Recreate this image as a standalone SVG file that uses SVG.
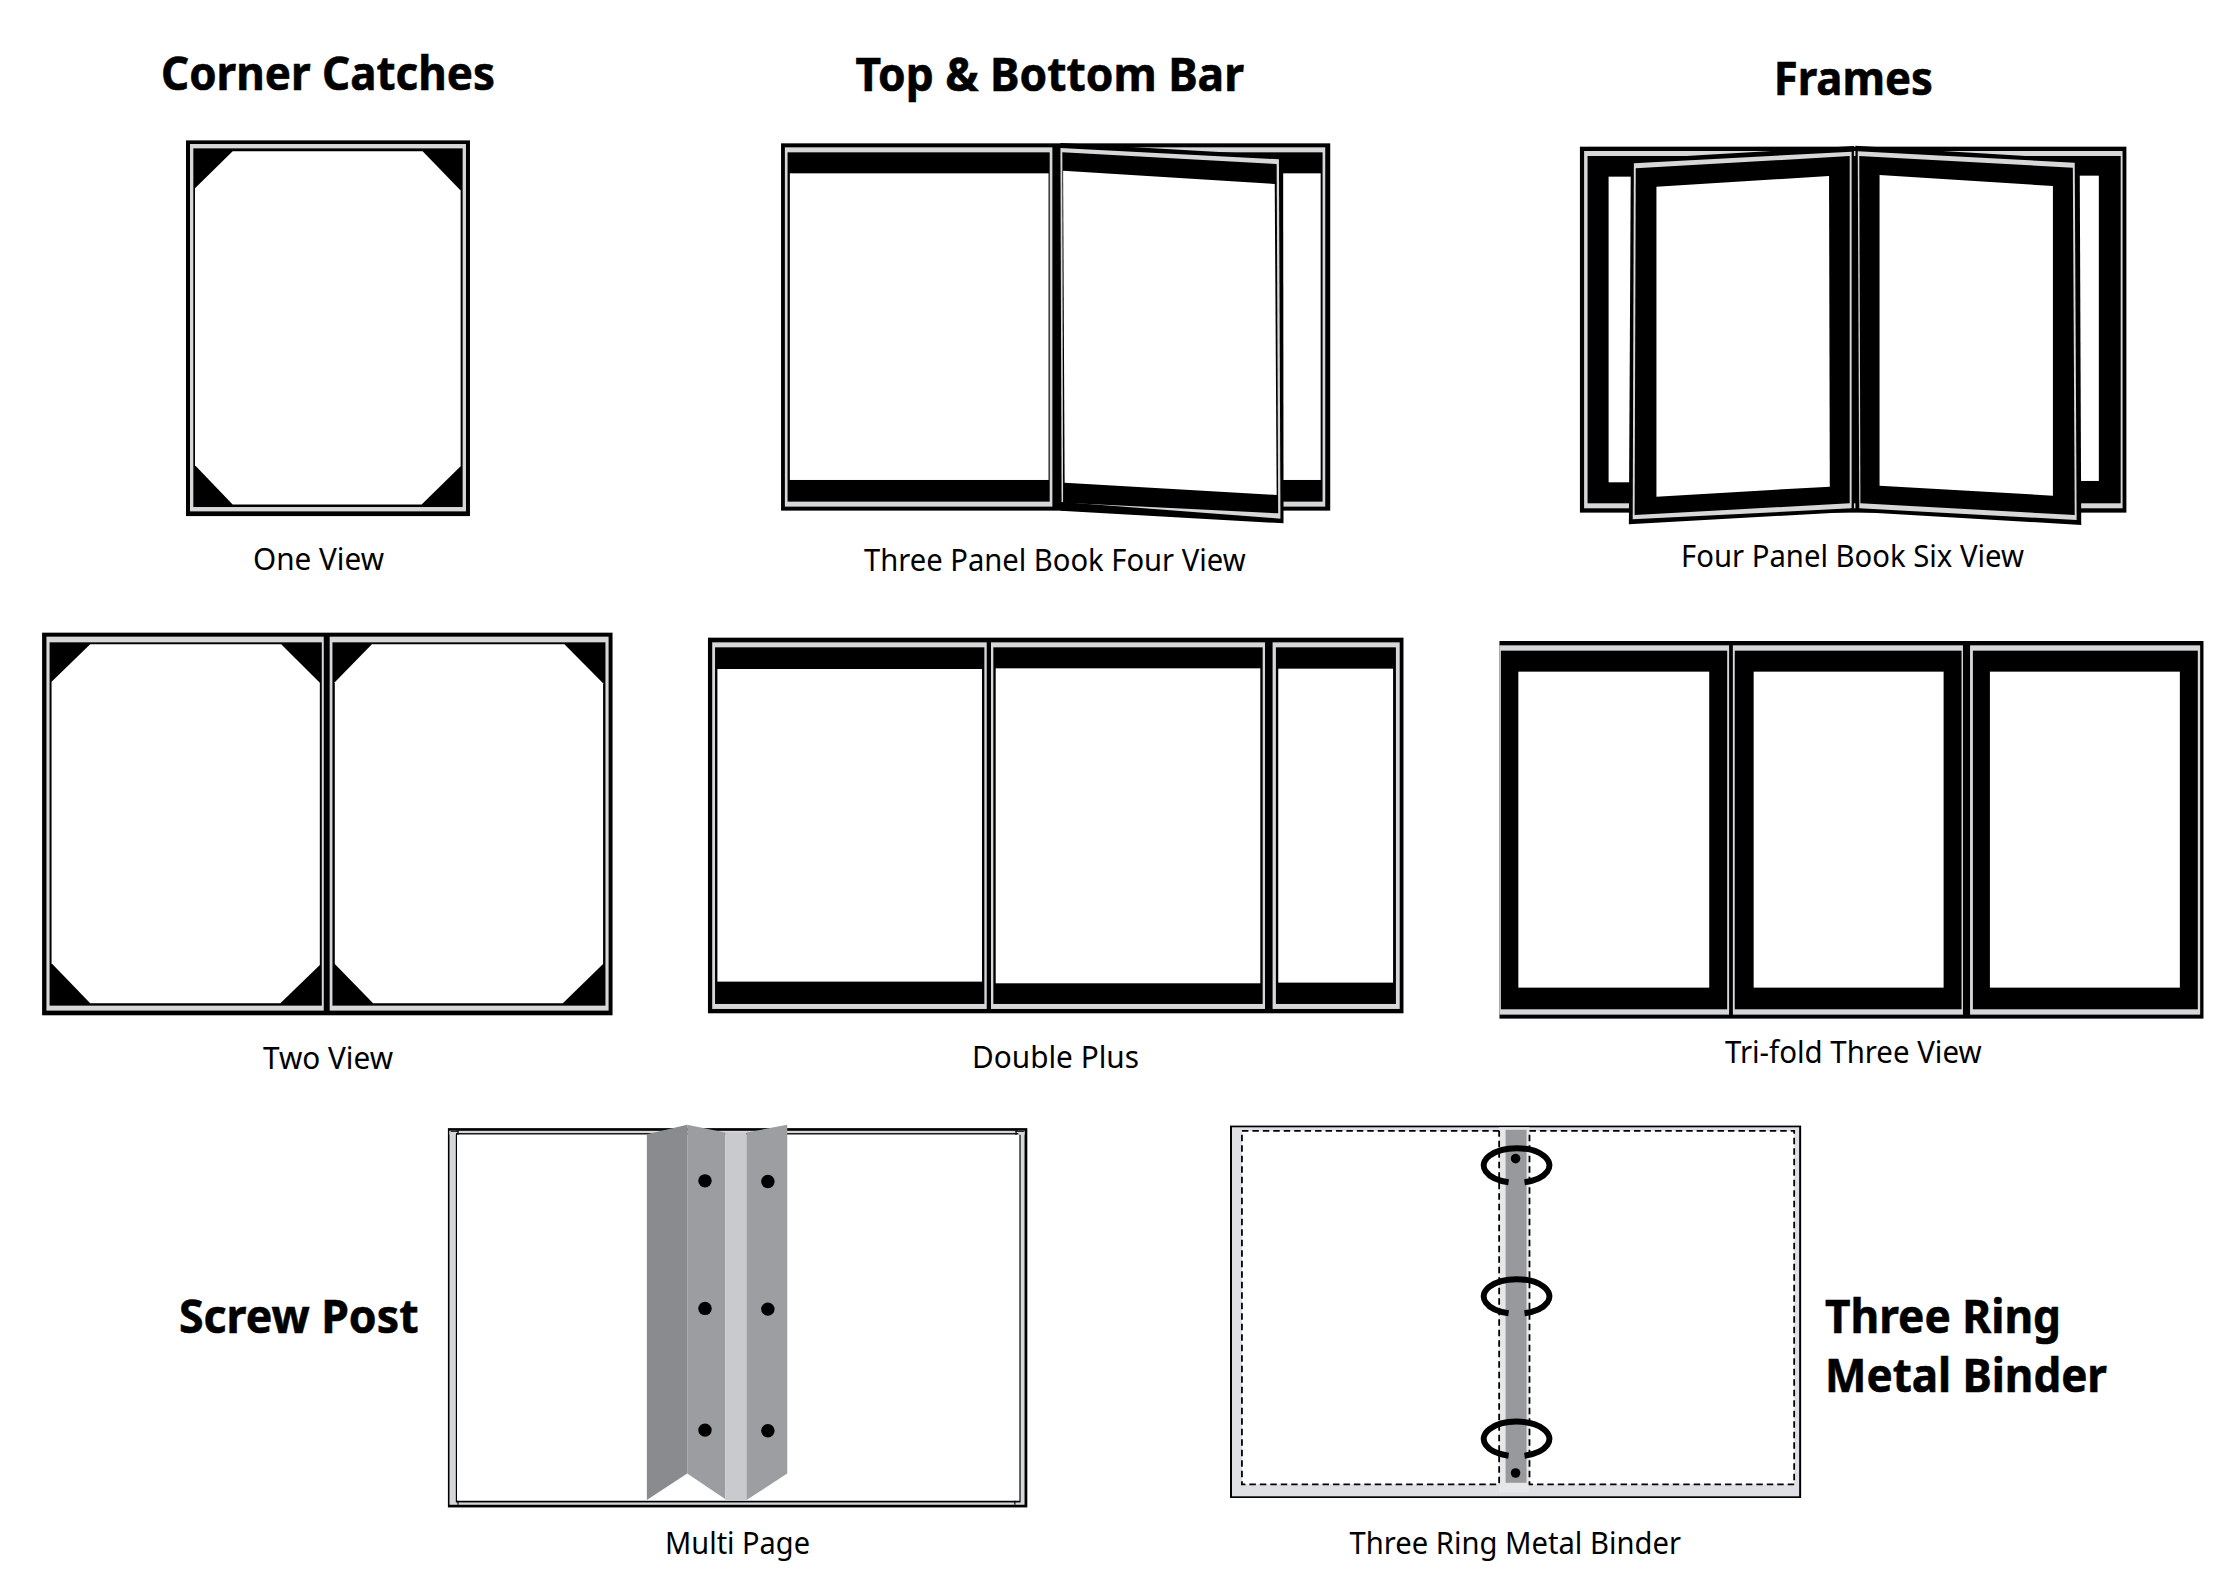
<svg xmlns="http://www.w3.org/2000/svg" width="2232" height="1584" viewBox="0 0 2232 1584">
<style>
.k{fill:#000}.g{fill:#d6d7d9}.w{fill:#fff}
.t{font-family:"Noto Sans","Open Sans","Liberation Sans",sans-serif;font-weight:700;font-size:46px;fill:#000;stroke:#000;stroke-width:.6}
.l{font-family:"Noto Sans","Open Sans","Liberation Sans",sans-serif;font-weight:400;font-size:30px;fill:#000}
.d{fill:none;stroke:#000;stroke-width:1.8;stroke-dasharray:6.5 4}
.r{fill:none;stroke:#000;stroke-width:6;stroke-linecap:butt}
</style>
<rect width="2232" height="1584" fill="#fff"/>

<g id="corner-catches">
<text class="t" x="161" y="89.7" textLength="334" lengthAdjust="spacingAndGlyphs">Corner Catches</text>
<g transform="translate(150,20.6) scale(0.3333,0.363)">
<rect class="k" x="108" y="330" width="852" height="1035"/>
<rect class="g" x="120" y="340" width="828" height="1012"/>
<rect class="k" x="130" y="352" width="808" height="988"/>
<polygon class="w" points="248,360 818,360 932,468 932,1228 815,1333 248,1333 135,1225 135,462"/>
</g>
<text class="l" x="253" y="569.6" textLength="131" lengthAdjust="spacingAndGlyphs">One View</text>
</g>

<g id="top-bottom-bar">
<text class="t" x="855.5" y="91.1" textLength="388.5" lengthAdjust="spacingAndGlyphs">Top &amp; Bottom Bar</text>
<g transform="translate(760,120) scale(0.3827,0.3333)">
<rect class="k" x="55" y="70" width="1435" height="1102"/>
<rect class="g" x="65" y="82" width="699" height="1078"/>
<rect class="k" x="72" y="97" width="685" height="1048"/>
<rect class="w" x="78" y="160" width="676" height="920"/>
<rect class="g" x="790" y="82" width="687" height="1078"/>
<rect class="k" x="790" y="97" width="680" height="1048"/>
<rect class="w" x="1300" y="160" width="165" height="920"/>
<polygon class="k" points="785,69 1367,107 1368,1210 785,1172"/>
<polygon class="g" points="785,84 1356,118 1360,1196 788,1146"/>
<polygon class="k" points="790,97 1350,132 1354,1180 792,1148"/>
<polygon class="w" points="792,152 1345,192 1350,1125 796,1088"/>
</g>
<text class="l" x="864" y="571" textLength="381.6" lengthAdjust="spacingAndGlyphs">Three Panel Book Four View</text>
</g>

<g id="frames">
<text class="t" x="1773.7" y="95.4" textLength="159.3" lengthAdjust="spacingAndGlyphs">Frames</text>
<g transform="translate(1560,120) scale(0.3827,0.3333)">
<rect class="k" x="52" y="80" width="1428" height="1098"/>
<rect class="g" x="63" y="93" width="1407" height="1072"/>
<rect class="k" x="72" y="108" width="1393" height="1042"/>
<rect class="w" x="127" y="170" width="70" height="917"/>
<rect class="w" x="1340" y="167" width="68" height="916"/>
<polygon class="k" points="185,118 768,78 768,1175 180,1213"/>
<polygon class="g" points="193,130 762,95 762,1165 190,1198"/>
<polygon class="k" points="198,145 757,108 757,1150 195,1185"/>
<polygon class="w" points="252,200 703,168 705,1100 252,1130"/>
<polygon class="k" points="772,77 1358,118 1362,1215 772,1175"/>
<polygon class="g" points="778,94 1345,128 1350,1200 782,1165"/>
<polygon class="k" points="782,108 1340,143 1345,1185 785,1150"/>
<polygon class="w" points="835,165 1288,198 1288,1127 835,1097"/>
</g>
<text class="l" x="1681" y="566.5" textLength="343" lengthAdjust="spacingAndGlyphs">Four Panel Book Six View</text>
</g>

<g id="two-view">
<g transform="translate(20,620) scale(0.3945,0.3333)">
<rect class="k" x="56" y="38" width="1446" height="1148"/>
<rect class="g" x="67" y="50" width="703" height="1122"/>
<rect class="k" x="75" y="67" width="690" height="1090"/>
<polygon class="w" points="178,73 662,73 760,188 760,1035 660,1150 178,1150 80,1030 80,185"/>
<rect class="g" x="785" y="50" width="707" height="1122"/>
<rect class="k" x="792" y="67" width="692" height="1090"/>
<polygon class="w" points="892,73 1380,73 1478,190 1478,1032 1376,1150 895,1150 798,1032 798,187"/>
</g>
<text class="l" x="263" y="1069" textLength="130" lengthAdjust="spacingAndGlyphs">Two View</text>
</g>

<g id="double-plus">
<g transform="translate(690,620) scale(0.4725,0.3333)">
<rect class="k" x="38" y="53" width="1472" height="1127"/>
<rect class="g" x="47" y="67" width="581" height="1100"/>
<rect class="k" x="53" y="82" width="570" height="1070"/>
<rect class="w" x="58" y="147" width="560" height="938"/>
<rect class="g" x="637" y="67" width="580" height="1100"/>
<rect class="k" x="642" y="82" width="570" height="1070"/>
<rect class="w" x="647" y="145" width="560" height="945"/>
<rect class="g" x="1233" y="67" width="269" height="1100"/>
<rect class="k" x="1240" y="82" width="254" height="1070"/>
<rect class="w" x="1245" y="146" width="243" height="942"/>
</g>
<text class="l" x="972" y="1067.6" textLength="167" lengthAdjust="spacingAndGlyphs">Double Plus</text>
</g>

<g id="tri-fold">
<g transform="translate(1490,620) scale(0.4725,0.3333)">
<rect class="k" x="20" y="63" width="1490" height="1133"/>
<rect class="g" x="20" y="76" width="486" height="1108"/>
<rect class="k" x="23" y="92" width="479" height="1076"/>
<rect class="w" x="60" y="155" width="404" height="948"/>
<rect class="g" x="514" y="76" width="487" height="1108"/>
<rect class="k" x="518" y="92" width="480" height="1076"/>
<rect class="w" x="558" y="155" width="402" height="948"/>
<rect class="g" x="1016" y="76" width="487" height="1108"/>
<rect class="k" x="1022" y="92" width="476" height="1076"/>
<rect class="w" x="1058" y="155" width="402" height="948"/>
</g>
<text class="l" x="1725" y="1062.6" textLength="256.5" lengthAdjust="spacingAndGlyphs">Tri-fold Three View</text>
</g>

<g id="screw-post">
<text class="t" x="179" y="1333.4" textLength="239.5" lengthAdjust="spacingAndGlyphs">Screw Post</text>
<g transform="translate(440,1110.8) scale(0.3955,0.3333)">
<rect class="k" x="20" y="52" width="1465" height="1138"/>
<rect class="g" x="24" y="60" width="1454" height="1122"/>
<rect class="k" x="40" y="67" width="1428" height="1108"/>
<rect class="w" x="43" y="71" width="1422" height="1099"/>
<rect class="g" x="24" y="60" width="16" height="12"/>
<rect class="g" x="1462" y="60" width="16" height="12"/>
<rect class="k" x="27" y="60" width="20" height="3"/>
<rect class="k" x="44" y="60" width="3" height="12"/>
<rect class="k" x="1455" y="60" width="3" height="12"/>
<rect class="k" x="1455" y="60" width="22" height="3"/>
<rect class="k" x="44" y="1170" width="3" height="12"/>
<rect class="k" x="1452" y="1170" width="3" height="12"/>
<polygon fill="#8a8b8e" points="523,70 625,42 625,1088 523,1168"/>
<polygon fill="#9c9da1" points="625,42 721,65 721,1165 625,1088"/>
<polygon fill="#c9cace" points="721,65 775,65 775,1170 721,1170"/>
<polygon fill="#9d9ea1" points="775,65 878,42 878,1088 775,1168"/>
<ellipse class="k" cx="670" cy="210" rx="17" ry="20"/>
<ellipse class="k" cx="670" cy="593" rx="17" ry="20"/>
<ellipse class="k" cx="670" cy="958" rx="17" ry="20"/>
<ellipse class="k" cx="829" cy="212" rx="17" ry="20"/>
<ellipse class="k" cx="829" cy="595" rx="17" ry="20"/>
<ellipse class="k" cx="829" cy="960" rx="17" ry="20"/>
</g>
<text class="l" x="665" y="1554.4" textLength="145" lengthAdjust="spacingAndGlyphs">Multi Page</text>
</g>

<g id="three-ring">
<g transform="translate(1230,1125.6) scale(0.995,1) translate(-1230,-1124.3)">
<rect class="k" x="1230" y="1124.3" width="574" height="372.4"/>
<rect fill="#dfe0e5" x="1232" y="1126" width="570" height="369"/>
<rect class="w" x="1242" y="1129.5" width="258.5" height="353.5"/>
<rect class="w" x="1531" y="1129.5" width="266" height="353.5"/>
<rect fill="#e6e7e8" x="1500.5" y="1126" width="30.5" height="365"/>
<rect fill="#98999d" x="1507" y="1128.5" width="21" height="353"/>
<path class="d" d="M1500.5 1129.5H1242V1483H1500.5V1129.5M1531 1129.5H1797V1483H1531V1129.5"/>
<circle class="k" cx="1517" cy="1157.3" r="4.8"/>
<circle class="k" cx="1517" cy="1471.7" r="4.8"/>
<path class="r" d="M1510 1181A33 17.3 0 1 1 1526 1181"/>
<path class="r" d="M1510 1312A33 17.3 0 1 1 1526 1312"/>
<path class="r" d="M1510 1454.4A33 17.3 0 1 1 1526 1454.4"/>
</g>
<text class="t" x="1825" y="1333.4" textLength="236" lengthAdjust="spacingAndGlyphs">Three Ring</text>
<text class="t" x="1825" y="1392.4" textLength="282" lengthAdjust="spacingAndGlyphs">Metal Binder</text>
<text class="l" x="1349.5" y="1554.4" textLength="331.5" lengthAdjust="spacingAndGlyphs">Three Ring Metal Binder</text>
</g>
</svg>
